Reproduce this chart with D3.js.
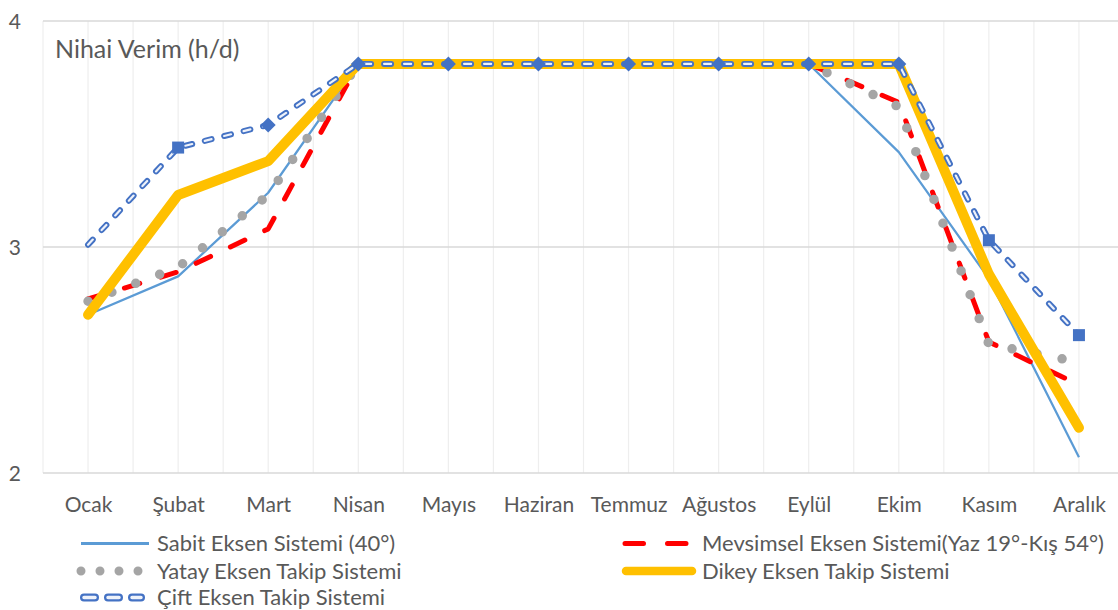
<!DOCTYPE html>
<html>
<head>
<meta charset="utf-8">
<script src="https://cdn.jsdelivr.net/npm/d3@7"></script>
<style>
  html, body { margin: 0; padding: 0; background: #fff; }
  svg { display: block; }
  text { font-family: Lato, "Noto Sans", sans-serif; fill: #595959; }
</style>
</head>
<body>
<svg id="chart" width="1118" height="610"></svg>
<script>
const months = ["Ocak","Şubat","Mart","Nisan","Mayıs","Haziran","Temmuz","Ağustos","Eylül","Ekim","Kasım","Aralık"];
const sabit     = [2.70, 2.87, 3.24, 3.81, 3.81, 3.81, 3.81, 3.81, 3.81, 3.42, 2.86, 2.07];
const mevsimsel = [2.77, 2.89, 3.08, 3.81, 3.81, 3.81, 3.81, 3.81, 3.81, 3.64, 2.58, 2.39];
const yatay     = [2.76, 2.91, 3.23, 3.81, 3.81, 3.81, 3.81, 3.81, 3.81, 3.62, 2.57, 2.49];
const dikey     = [2.70, 3.23, 3.38, 3.81, 3.81, 3.81, 3.81, 3.81, 3.81, 3.81, 2.88, 2.20];
const cift      = [3.01, 3.44, 3.54, 3.81, 3.81, 3.81, 3.81, 3.81, 3.81, 3.81, 3.03, 2.61];
const ciftMarkers = ["none","square","diamond","diamond","diamond","diamond","diamond","diamond","diamond","diamond","square","square"];
const yTicks = [2, 3, 4];
const seriesNames = ["Sabit Eksen Sistemi (40°)", "Mevsimsel Eksen Sistemi(Yaz 19°-Kış 54°)", "Yatay Eksen Takip Sistemi", "Dikey Eksen Takip Sistemi", "Çift Eksen Takip Sistemi"];
const titleText = "Nihai Verim (h/d)";

const svg = d3.select("#chart");
const plotLeft = 43, plotRight = 1124, plotTop = 21, plotBottom = 473;

const xBand = d3.scaleBand().domain(months).range([plotLeft, plotRight]).paddingInner(0).paddingOuter(0);
const x = d => xBand(d) + xBand.bandwidth() / 2;
const y = d3.scaleLinear().domain([2, 4]).range([plotBottom, plotTop]);

// vertical gridlines (band edges and centres)
const vLines = [];
months.forEach(m => { vLines.push(xBand(m)); vLines.push(x(m)); });
svg.append("g").selectAll("line").data(vLines).join("line")
  .attr("x1", d => d).attr("x2", d => d)
  .attr("y1", plotTop).attr("y2", plotBottom)
  .attr("stroke", "#eeeeee").attr("stroke-width", 1.2);

// horizontal gridlines
svg.append("g").selectAll("line").data(yTicks).join("line")
  .attr("x1", plotLeft).attr("x2", 1118)
  .attr("y1", d => y(d)).attr("y2", d => y(d))
  .attr("stroke", "#d9d9d9").attr("stroke-width", 1.3);

// y axis labels
const yAxis = d3.axisLeft(y).tickValues(yTicks).tickSize(0).tickPadding(0).tickFormat(d3.format("d"));
const gy = svg.append("g").attr("transform", "translate(21,0)").call(yAxis);
gy.select(".domain").remove();
gy.selectAll("text").attr("font-size", 21).attr("dy", "0.36em").style("font-family", "Lato").attr("fill", "#595959");

// x axis labels
const xAxis = d3.axisBottom(d3.scalePoint().domain(months).range([x(months[0]), x(months[months.length-1])])).tickSize(0).tickPadding(0);
const gx = svg.append("g").attr("transform", "translate(0,497)").call(xAxis);
gx.select(".domain").remove();
gx.selectAll("text").attr("font-size", 21).attr("dy", "0.72em").style("font-family", "Lato").attr("fill", "#595959");

// title
svg.append("text").attr("x", 55).attr("y", 58).attr("font-size", 25).text(titleText);

const line = d3.line().x((d, i) => x(months[i])).y(d => y(d));

// Sabit
svg.append("path").attr("d", line(sabit)).attr("fill", "none")
  .attr("stroke", "#5b9bd5").attr("stroke-width", 2.25).attr("stroke-linejoin", "round");
// Mevsimsel
svg.append("path").attr("d", line(mevsimsel)).attr("fill", "none")
  .attr("stroke", "#ff0000").attr("stroke-width", 5).attr("stroke-linecap", "round")
  .attr("stroke-linejoin", "round").attr("stroke-dasharray", "16 22");
// Yatay
svg.append("path").attr("d", line(yatay)).attr("fill", "none")
  .attr("stroke", "#a5a5a5").attr("stroke-width", 9.5).attr("stroke-linecap", "round")
  .attr("stroke-linejoin", "round").attr("stroke-dasharray", "0 25.5");
// Dikey
svg.append("path").attr("d", line(dikey)).attr("fill", "none")
  .attr("stroke", "#ffc000").attr("stroke-width", 10).attr("stroke-linecap", "round")
  .attr("stroke-linejoin", "round");
// Cift
svg.append("path").attr("d", line(cift)).attr("fill", "none")
  .attr("stroke", "#4472c4").attr("stroke-width", 6).attr("stroke-linecap", "round")
  .attr("stroke-linejoin", "round").attr("stroke-dasharray", "7 13");
svg.append("path").attr("d", line(cift)).attr("fill", "none")
  .attr("stroke", "#eef2fa").attr("stroke-width", 2.2).attr("stroke-linecap", "round")
  .attr("stroke-linejoin", "round").attr("stroke-dasharray", "7 13");

// markers
const markerPath = t => t === "diamond" ? "M0,-7.5L7.5,0L0,7.5L-7.5,0Z" : (t === "square" ? "M-6,-6H6V6H-6Z" : "");
svg.append("g").selectAll("path").data(cift.map((v, i) => ({v, m: months[i], t: ciftMarkers[i]})).filter(d => d.t !== "none"))
  .join("path")
  .attr("transform", d => `translate(${x(d.m)},${y(d.v)})`)
  .attr("d", d => markerPath(d.t))
  .attr("fill", "#4472c4");

// legend
const lg = svg.append("g");
const legFont = 22;
const r1 = 543.5, r2 = 571, r3 = 597.5;
// row 1 left: Sabit
lg.append("line").attr("x1", 81).attr("x2", 149).attr("y1", r1).attr("y2", r1)
  .attr("stroke", "#5b9bd5").attr("stroke-width", 2.8);
lg.append("text").attr("x", 157).attr("y", r1).attr("dy", "0.35em").attr("font-size", legFont).text(seriesNames[0]);
// row 1 right: Mevsimsel
lg.append("line").attr("x1", 625).attr("x2", 686).attr("y1", r1).attr("y2", r1)
  .attr("stroke", "#ff0000").attr("stroke-width", 5).attr("stroke-linecap", "round").attr("stroke-dasharray", "18.5 24");
lg.append("text").attr("x", 702).attr("y", r1).attr("dy", "0.35em").attr("font-size", legFont).text(seriesNames[1]);
// row 2 left: Yatay
lg.append("line").attr("x1", 81).attr("x2", 139).attr("y1", r2).attr("y2", r2)
  .attr("stroke", "#a5a5a5").attr("stroke-width", 9).attr("stroke-linecap", "round").attr("stroke-dasharray", "0 19");
lg.append("text").attr("x", 157).attr("y", r2).attr("dy", "0.35em").attr("font-size", legFont).text(seriesNames[2]);
// row 2 right: Dikey
lg.append("line").attr("x1", 626).attr("x2", 692).attr("y1", r2).attr("y2", r2)
  .attr("stroke", "#ffc000").attr("stroke-width", 8.5).attr("stroke-linecap", "round");
lg.append("text").attr("x", 702).attr("y", r2).attr("dy", "0.35em").attr("font-size", legFont).text(seriesNames[3]);
// row 3 left: Cift
lg.append("line").attr("x1", 84).attr("x2", 141).attr("y1", r3).attr("y2", r3)
  .attr("stroke", "#4472c4").attr("stroke-width", 8).attr("stroke-linecap", "round").attr("stroke-dasharray", "11 13");
lg.append("line").attr("x1", 84).attr("x2", 141).attr("y1", r3).attr("y2", r3)
  .attr("stroke", "#eef2fa").attr("stroke-width", 3.5).attr("stroke-linecap", "round").attr("stroke-dasharray", "11 13");
lg.append("text").attr("x", 157).attr("y", r3).attr("dy", "0.35em").attr("font-size", legFont).text(seriesNames[4]);
</script>
</body>
</html>
